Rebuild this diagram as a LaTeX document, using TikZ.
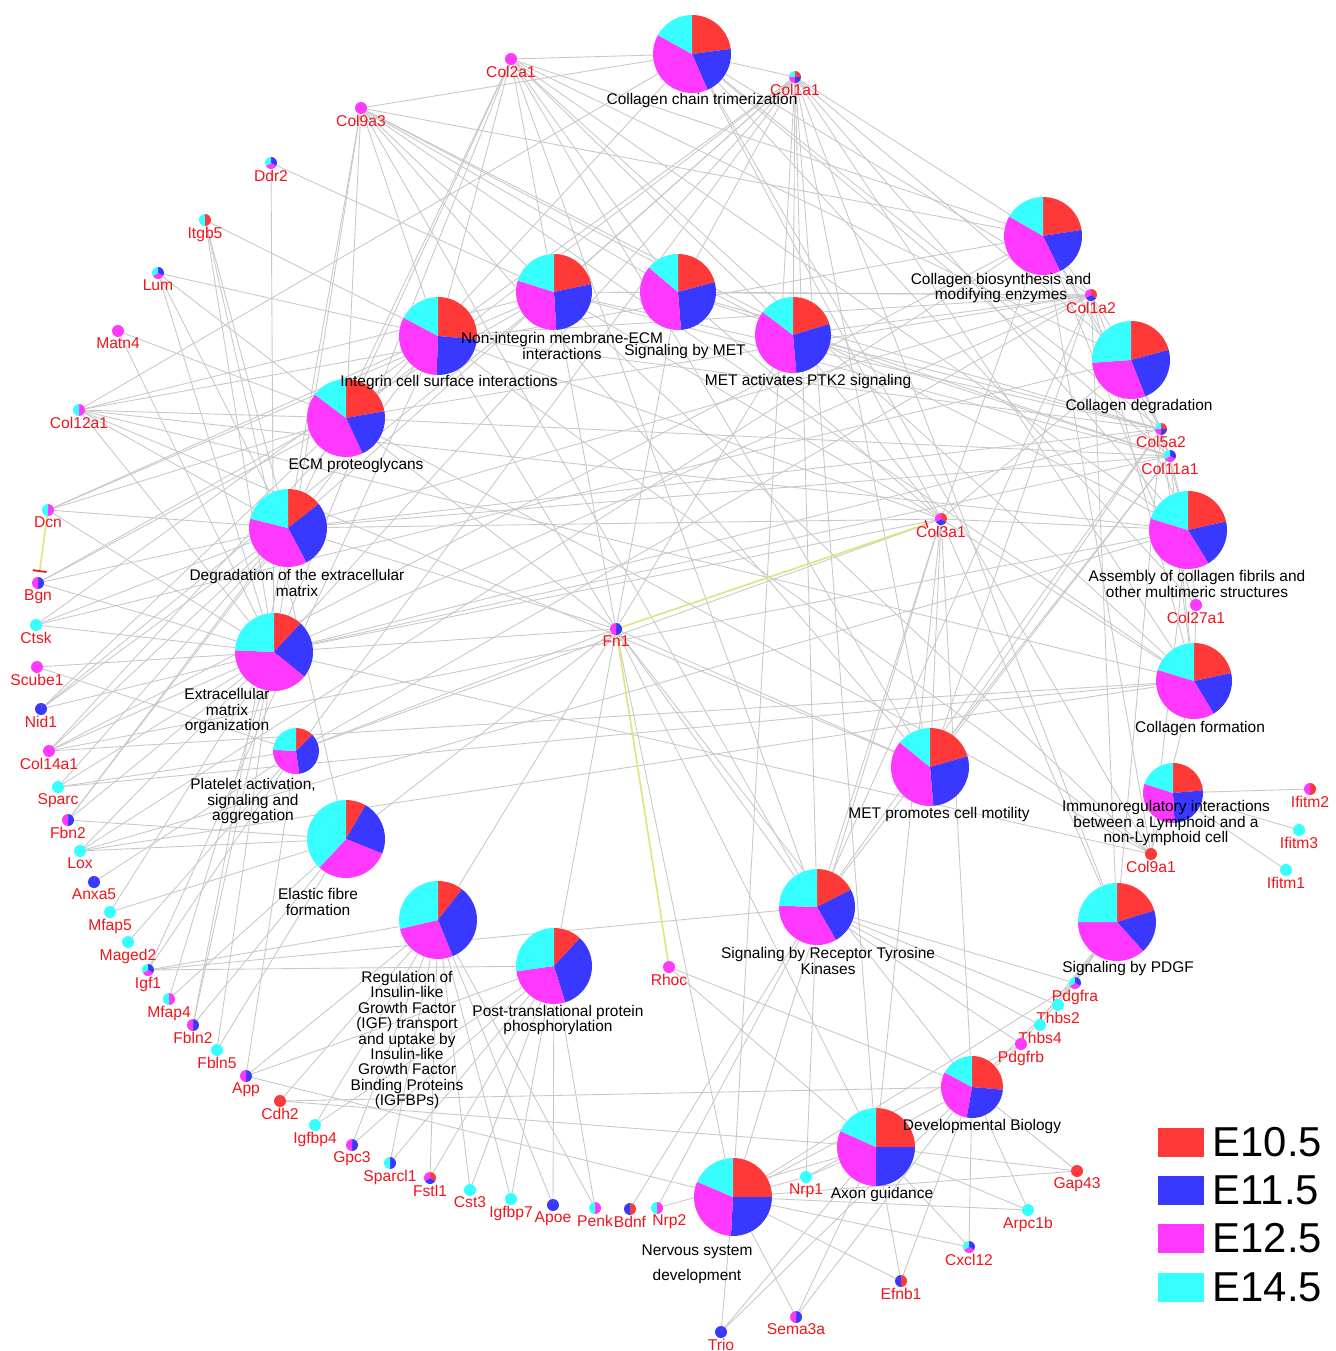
\documentclass[tikz,border=0pt]{standalone}
\usepackage{fontspec}
\setmainfont{Liberation Sans}
\usetikzlibrary{positioning,arrows.meta}

\definecolor{slRed}{HTML}{FF3838}
\definecolor{slBlue}{HTML}{3838FF}
\definecolor{slMag}{HTML}{FF38FF}
\definecolor{slCyan}{HTML}{38FFFF}
\definecolor{edgegray}{HTML}{C8C8C8}
\definecolor{edgeyellow}{HTML}{E2E27A}
\definecolor{geneRed}{HTML}{F2141C}

% pie: node, radius, slice ends clockwise from top (red | blue | magenta | cyan)
\newcommand{\drawpie}[5]{%
  \begin{scope}[shift={(#1.center)}]
    \fill[slRed]  (0,0) -- (90:#2) arc[start angle=90, end angle={90-#3}, radius=#2] -- cycle;
    \fill[slBlue] (0,0) -- ({90-#3}:#2) arc[start angle={90-#3}, end angle={90-#4}, radius=#2] -- cycle;
    \fill[slMag]  (0,0) -- ({90-#4}:#2) arc[start angle={90-#4}, end angle={90-#5}, radius=#2] -- cycle;
    \fill[slCyan] (0,0) -- ({90-#5}:#2) arc[start angle={90-#5}, end angle=-270, radius=#2] -- cycle;
  \end{scope}}

\begin{document}
\begin{tikzpicture}[
    x=0.02cm, y=0.02cm,
    pnode/.style={circle, inner sep=0, minimum size=#1},
    glabel/.style={text=geneRed, font=\fontsize{8.9}{9}\selectfont, inner sep=0.3pt},
    gene/.style={circle, inner sep=0, minimum size=0.22cm,
                 label={[glabel, label distance=0pt]below:#1}},
    plabel/.style={align=center, font=\fontsize{8.8}{8.8}\selectfont, inner sep=0},
    pedge/.style={draw=edgegray, line width=0.5pt},
    yedge/.style={draw=edgeyellow, line width=0.9pt},
    legbox/.style={minimum width=0.92cm, minimum height=0.58cm, inner sep=0},
    legtext/.style={font=\fontsize{23.8}{24}\selectfont, inner sep=0, anchor=west},
]
\pgfdeclarelayer{bg}
\pgfsetlayers{bg,main}
\useasboundingbox (0,0) rectangle (1335,-1351);

% Pathways
\node[pnode=1.56cm] (cct)  at (692,-54)   {};
\node[pnode=1.52cm] (nim)  at (554,-292)  {};
\node[pnode=1.52cm] (smet) at (678,-292)  {};
\node[pnode=1.52cm] (ptk)  at (793,-335)  {};
\node[pnode=1.56cm] (ics)  at (438,-336)  {};
\node[pnode=1.56cm] (ecmp) at (346,-418)  {};
\node[pnode=1.56cm] (decm) at (288,-528)  {};
\node[pnode=1.56cm] (emo)  at (274,-652)  {};
\node[pnode=0.92cm] (plt)  at (296,-751)  {};
\node[pnode=1.56cm] (eff)  at (346,-839)  {};
\node[pnode=1.56cm] (igf)  at (438,-920)  {};
\node[pnode=1.52cm] (ptp)  at (554,-966)  {};
\node[pnode=1.52cm] (rtk)  at (817,-907)  {};
\node[pnode=1.56cm] (nsd)  at (733,-1197) {};
\node[pnode=1.56cm] (axg)  at (876,-1147) {};
\node[pnode=1.24cm] (devb) at (972,-1087) {};
\node[pnode=1.56cm] (pdgf) at (1117,-922) {};
\node[pnode=1.2cm]  (imm)  at (1173,-793) {};
\node[pnode=1.56cm] (mcm)  at (930,-767)  {};
\node[pnode=1.52cm] (cf)   at (1194,-681) {};
\node[pnode=1.56cm] (acf)  at (1188,-530) {};
\node[pnode=1.56cm] (cdeg) at (1131,-360) {};
\node[pnode=1.56cm] (cbio) at (1043,-236) {};

% Genes
\node[gene=Col2a1]  (col2a1)  at (511,-59)   {};
\node[gene=Col1a1]  (col1a1)  at (795,-77)   {};
\node[gene=Col9a3]  (col9a3)  at (361,-108)  {};
\node[gene=Ddr2]    (ddr2)    at (271,-163)  {};
\node[gene=Itgb5]   (itgb5)   at (205,-220)  {};
\node[gene=Lum]     (lum)     at (158,-273)  {};
\node[gene=Matn4]   (matn4)   at (118,-331)  {};
\node[gene=Col12a1] (col12a1) at (79,-410)   {};
\node[gene=Dcn]     (dcn)     at (48,-510)   {};
\node[gene=Bgn]     (bgn)     at (38,-583)   {};
\node[gene=Ctsk]    (ctsk)    at (36,-625)   {};
\node[gene=Scube1]  (scube1)  at (37,-667)   {};
\node[gene=Nid1]    (nid1)    at (41,-709)   {};
\node[gene=Col14a1] (col14a1) at (49,-751)   {};
\node[gene=Sparc]   (sparc)   at (58,-787)   {};
\node[gene=Fbn2]    (fbn2)    at (68,-820)   {};
\node[gene=Lox]     (lox)     at (80,-851)   {};
\node[gene=Anxa5]   (anxa5)   at (94,-882)   {};
\node[gene=Mfap5]   (mfap5)   at (110,-912)  {};
\node[gene=Maged2]  (maged2)  at (128,-942)  {};
\node[gene=Igf1]    (igf1)    at (148,-970)  {};
\node[gene=Mfap4]   (mfap4)   at (169,-999)  {};
\node[gene=Fbln2]   (fbln2)   at (193,-1025) {};
\node[gene=Fbln5]   (fbln5)   at (217,-1050) {};
\node[gene=App]     (app)     at (246,-1076) {};
\node[gene=Cdh2]    (cdh2)    at (280,-1101) {};
\node[gene=Igfbp4]  (igfbp4)  at (315,-1125) {};
\node[gene=Gpc3]    (gpc3)    at (352,-1145) {};
\node[gene=Sparcl1] (sparcl1) at (390,-1163) {};
\node[gene=Fstl1]   (fstl1)   at (430,-1178) {};
\node[gene=Cst3]    (cst3)    at (470,-1190) {};
\node[gene=Igfbp7]  (igfbp7)  at (511,-1199) {};
\node[gene=Apoe]    (apoe)    at (553,-1205) {};
\node[gene=Penk]    (penk)    at (595,-1208) {};
\node[gene=Bdnf]    (bdnf)    at (630,-1209) {};
\node[circle, inner sep=0, minimum size=0.22cm,
      label={[glabel, xshift=7pt]below:Nrp2}] (nrp2) at (657,-1208) {};
\node[gene=Trio]    (trio)    at (721,-1332) {};
\node[gene=Sema3a]  (sema3a)  at (796,-1317) {};
\node[gene=Nrp1]    (nrp1)    at (806,-1177) {};
\node[gene=Efnb1]   (efnb1)   at (901,-1281) {};
\node[gene=Cxcl12]  (cxcl12)  at (969,-1247) {};
\node[gene=Arpc1b]  (arpc1b)  at (1028,-1210) {};
\node[gene=Gap43]   (gap43)   at (1077,-1171) {};
\node[gene=Pdgfrb]  (pdgfrb)  at (1021,-1044) {};
\node[gene=Thbs4]   (thbs4)   at (1040,-1025) {};
\node[gene=Thbs2]   (thbs2)   at (1058,-1005) {};
\node[gene=Pdgfra]  (pdgfra)  at (1075,-983)  {};
\node[gene=Col9a1]  (col9a1)  at (1151,-854)  {};
\node[gene=Ifitm1]  (ifitm1)  at (1286,-870)  {};
\node[gene=Ifitm3]  (ifitm3)  at (1299,-830)  {};
\node[gene=Ifitm2]  (ifitm2)  at (1310,-789)  {};
\node[gene=Col27a1] (col27a1) at (1196,-605)  {};
\node[gene=Col11a1] (col11a1) at (1170,-456)  {};
\node[gene=Col5a2]  (col5a2)  at (1161,-429)  {};
\node[gene=Col1a2]  (col1a2)  at (1091,-295)  {};
\node[gene=Col3a1]  (col3a1)  at (941,-519)   {};
\node[gene=Fn1]     (fn1)     at (616,-629)   {};
\node[gene=Rhoc]    (rhoc)    at (669,-967)   {};

\begin{pgfonlayer}{bg}
% gene -> pathway membership
\path[pedge] (col2a1) edge (cct) edge (nim) edge (smet) edge (ptk) edge (ics) edge (ecmp) edge (decm)
  edge (emo) edge (cbio) edge (cf) edge (acf) edge (cdeg) edge (mcm) edge (rtk);
\path[pedge] (col1a1) edge (cct) edge (nim) edge (smet) edge (ptk) edge (ics) edge (ecmp) edge (decm)
  edge (emo) edge (plt) edge (cbio) edge (cf) edge (acf) edge (cdeg) edge (mcm) edge (rtk) edge (pdgf)
  edge (axg) edge (nsd);
\path[pedge] (col9a3) edge (cct) edge (nim) edge (smet) edge (ptk) edge (ics) edge (ecmp) edge (decm)
  edge (emo) edge (cbio) edge (cf) edge (acf) edge (mcm) edge (rtk);
\path[pedge] (ddr2) edge (nim) edge (emo);
\path[pedge] (itgb5) edge (ics) edge (emo) edge (decm) edge (eff);
\path[pedge] (lum) edge (ecmp) edge (emo) edge (decm) edge (ics);
\path[pedge] (matn4) edge (ecmp) edge (emo);
\path[pedge] (col12a1) edge (cct) edge (nim) edge (ecmp) edge (decm) edge (emo) edge (cbio) edge (cf)
  edge (acf) edge (mcm);
\path[pedge] (dcn) edge (ecmp) edge (decm) edge (emo) edge (nim) edge (ics);
\path[pedge] (bgn) edge (ecmp) edge (decm) edge (emo) edge (nim);
\path[pedge] (ctsk) edge (decm) edge (emo) edge (cdeg) edge (ics);
\path[pedge] (scube1) edge (plt) edge (emo);
\path[pedge] (nid1) edge (nim) edge (emo) edge (decm) edge (ecmp);
\path[pedge] (col14a1) edge (cct) edge (cbio) edge (cf) edge (acf) edge (emo) edge (decm);
\path[pedge] (sparc) edge (plt) edge (emo) edge (decm) edge (cf);
\path[pedge] (fbn2) edge (eff) edge (emo) edge (decm) edge (ics);
\path[pedge] (lox) edge (eff) edge (emo) edge (cf) edge (acf) edge (cbio);
\path[pedge] (anxa5) edge (plt);
\path[pedge] (mfap5) edge (eff) edge (emo);
\path[pedge] (maged2) edge (plt);
\path[pedge] (igf1) edge (igf) edge (ptp) edge (plt) edge (rtk) edge (ics);
\path[pedge] (mfap4) edge (eff) edge (emo);
\path[pedge] (fbln2) edge (eff) edge (emo) edge (decm);
\path[pedge] (fbln5) edge (eff) edge (emo);
\path[pedge] (app) edge (plt) edge (igf) edge (ptp) edge (nsd);
\path[pedge] (cdh2) edge (devb) edge (igf) edge (axg);
\path[pedge] (igfbp4) edge (igf) edge (ptp);
\path[pedge] (gpc3) edge (igf) edge (ptp);
\path[pedge] (sparcl1) edge (igf) edge (ptp);
\path[pedge] (fstl1) edge (igf) edge (ptp);
\path[pedge] (cst3) edge (igf) edge (ptp);
\path[pedge] (igfbp7) edge (igf) edge (ptp);
\path[pedge] (apoe) edge (igf) edge (ptp);
\path[pedge] (penk) edge (igf) edge (ptp);
\path[pedge] (bdnf) edge (rtk);
\path[pedge] (nrp2) edge (rtk) edge (axg);
\path[pedge] (rhoc) edge (axg) edge (devb);
\path[pedge] (trio) edge (nsd) edge (axg) edge (devb);
\path[pedge] (sema3a) edge (nsd) edge (axg) edge (devb);
\path[pedge] (nrp1) edge (rtk) edge (nsd) edge (axg) edge (devb);
\path[pedge] (efnb1) edge (nsd) edge (axg) edge (devb);
\path[pedge] (cxcl12) edge (nsd) edge (axg) edge (devb);
\path[pedge] (arpc1b) edge (nsd) edge (axg) edge (devb);
\path[pedge] (gap43) edge (nsd) edge (axg) edge (devb);
\path[pedge] (pdgfrb) edge (pdgf) edge (rtk) edge (nsd) edge (devb);
\path[pedge] (thbs4) edge (pdgf) edge (rtk);
\path[pedge] (thbs2) edge (pdgf) edge (rtk);
\path[pedge] (pdgfra) edge (pdgf) edge (rtk) edge (nsd) edge (devb);
\path[pedge] (col9a1) edge (cct) edge (cbio) edge (cf) edge (acf) edge (ecmp) edge (ics) edge (nim) edge (emo);
\path[pedge] (imm) edge (ifitm1) edge (ifitm2) edge (ifitm3);
\path[pedge] (col27a1) edge (cbio) edge (cf) edge (acf) edge (cct);
\path[pedge] (col11a1) edge (cct) edge (nim) edge (smet) edge (ptk) edge (ecmp) edge (decm) edge (emo)
  edge (cbio) edge (cf) edge (acf) edge (cdeg) edge (mcm) edge (rtk);
\path[pedge] (col5a2) edge (cct) edge (nim) edge (smet) edge (ptk) edge (ics) edge (decm) edge (emo)
  edge (cbio) edge (cf) edge (acf) edge (cdeg) edge (mcm) edge (rtk) edge (pdgf);
\path[pedge] (col1a2) edge (cct) edge (nim) edge (smet) edge (ptk) edge (ics) edge (ecmp) edge (decm)
  edge (emo) edge (plt) edge (cbio) edge (cf) edge (acf) edge (cdeg) edge (mcm) edge (rtk) edge (pdgf);
\path[pedge] (col3a1) edge (cct) edge (nim) edge (smet) edge (ptk) edge (ics) edge (decm) edge (emo)
  edge (plt) edge (cbio) edge (cf) edge (acf) edge (cdeg) edge (mcm) edge (rtk) edge (pdgf) edge (axg)
  edge (devb) edge (nsd);
\path[pedge] (fn1) edge (ics) edge (nim) edge (smet) edge (ptk) edge (mcm) edge (emo) edge (decm)
  edge (ecmp) edge (plt) edge (eff) edge (rtk) edge (igf) edge (ptp) edge (axg) edge (nsd) edge (devb);

% gene -- gene interactions (yellow)
\draw[yedge, -{Bar[width=8pt, line width=1pt, color=geneRed]}, shorten >=3pt] (dcn) -- (bgn);
\draw[yedge, -{Bar[width=4.5pt, line width=0.8pt, color=geneRed]}, shorten >=5pt] (fn1) -- (col3a1);
\draw[yedge] (fn1) -- (rhoc);
\end{pgfonlayer}

% pathway pies
\drawpie{cct}{39}{82.5}{156.5}{299}
\drawpie{nim}{38}{78}{176.5}{287.5}
\drawpie{smet}{38}{75}{175.5}{310}
\drawpie{ptk}{38}{73}{175}{307}
\drawpie{ics}{39}{95}{182}{298}
\drawpie{ecmp}{39}{80}{155}{307}
\drawpie{decm}{39}{52}{152}{284}
\drawpie{emo}{39}{43}{129}{272.5}
\drawpie{plt}{23}{45}{172}{273}
\drawpie{eff}{39}{30}{112}{223}
\drawpie{igf}{39}{38}{158}{257}
\drawpie{ptp}{38}{43}{163}{262}
\drawpie{rtk}{38}{63}{150}{272}
\drawpie{nsd}{39}{90}{183}{293}
\drawpie{axg}{39}{90}{180}{294}
\drawpie{devb}{31}{95}{190}{298}
\drawpie{pdgf}{39}{73}{138}{270}
\drawpie{imm}{30}{85}{177}{288}
\drawpie{mcm}{39}{74}{175}{309}
\drawpie{cf}{38}{78}{149}{287}
\drawpie{acf}{39}{77.5}{148.5}{287}
\drawpie{cdeg}{39}{75}{158.6}{266}
\drawpie{cbio}{39}{81}{154}{300}

% gene pies
\drawpie{col2a1}{6}{0}{0}{360}
\drawpie{col1a1}{6}{90}{180}{270}
\drawpie{col9a3}{6}{0}{0}{360}
\drawpie{ddr2}{6}{0}{120}{240}
\drawpie{itgb5}{6}{180}{180}{180}
\drawpie{lum}{6}{0}{120}{240}
\drawpie{matn4}{6}{0}{0}{360}
\drawpie{col12a1}{6}{0}{0}{180}
\drawpie{dcn}{6}{0}{0}{180}
\drawpie{bgn}{6}{0}{180}{360}
\drawpie{ctsk}{6}{0}{0}{0}
\drawpie{scube1}{6}{0}{0}{360}
\drawpie{nid1}{6}{0}{360}{360}
\drawpie{col14a1}{6}{0}{0}{360}
\drawpie{sparc}{6}{0}{0}{0}
\drawpie{fbn2}{6}{0}{180}{360}
\drawpie{lox}{6}{0}{0}{0}
\drawpie{anxa5}{6}{0}{360}{360}
\drawpie{mfap5}{6}{0}{0}{0}
\drawpie{maged2}{6}{0}{0}{0}
\drawpie{igf1}{6}{0}{120}{240}
\drawpie{mfap4}{6}{0}{0}{180}
\drawpie{fbln2}{6}{0}{180}{360}
\drawpie{fbln5}{6}{0}{0}{0}
\drawpie{app}{6}{0}{180}{360}
\drawpie{cdh2}{6}{360}{360}{360}
\drawpie{igfbp4}{6}{0}{0}{0}
\drawpie{gpc3}{6}{0}{180}{360}
\drawpie{sparcl1}{6}{0}{180}{180}
\drawpie{fstl1}{6}{120}{240}{360}
\drawpie{cst3}{6}{0}{0}{0}
\drawpie{igfbp7}{6}{0}{0}{0}
\drawpie{apoe}{6}{0}{360}{360}
\drawpie{penk}{6}{0}{0}{180}
\drawpie{bdnf}{6}{180}{360}{360}
\drawpie{nrp2}{6}{0}{0}{180}
\drawpie{trio}{6}{0}{360}{360}
\drawpie{sema3a}{6}{0}{180}{360}
\drawpie{nrp1}{6}{0}{0}{0}
\drawpie{efnb1}{6}{180}{360}{360}
\drawpie{cxcl12}{6}{0}{120}{240}
\drawpie{arpc1b}{6}{0}{0}{0}
\drawpie{gap43}{6}{360}{360}{360}
\drawpie{pdgfrb}{6}{0}{0}{360}
\drawpie{thbs4}{6}{0}{0}{0}
\drawpie{thbs2}{6}{0}{0}{0}
\drawpie{pdgfra}{6}{0}{120}{240}
\drawpie{col9a1}{6}{360}{360}{360}
\drawpie{ifitm1}{6}{0}{0}{0}
\drawpie{ifitm3}{6}{0}{0}{0}
\drawpie{ifitm2}{6}{180}{180}{360}
\drawpie{col27a1}{6}{0}{0}{360}
\drawpie{col11a1}{6}{0}{120}{240}
\drawpie{col5a2}{6}{90}{180}{270}
\drawpie{col1a2}{6}{120}{240}{360}
\drawpie{col3a1}{6}{120}{240}{360}
\drawpie{fn1}{6}{0}{180}{360}
\drawpie{rhoc}{6}{0}{0}{360}

% pathway labels
\node[plabel] (cct-l)  at (702,-101)  {Collagen chain trimerization};
\node[plabel] (nim-l)  at (562,-346)  {Non-integrin membrane-ECM\\interactions};
\node[plabel] (smet-l) at (685,-352)  {Signaling by MET};
\node[plabel] (ptk-l)  at (808,-382)  {MET activates PTK2 signaling};
\node[plabel] (ics-l)  at (449,-383)  {Integrin cell surface interactions};
\node[plabel] (ecmp-l) at (356,-465)  {ECM proteoglycans};
\node[plabel] (decm-l) at (297,-583)  {Degradation of the extracellular\\matrix};
\node[plabel] (emo-l)  at (227,-711)  {Extracellular\\matrix\\organization};
\node[plabel] (plt-l)  at (253,-801)  {Platelet activation,\\signaling and\\aggregation};
\node[plabel] (eff-l)  at (318,-902)  {Elastic fibre\\formation};
\node[plabel] (igf-l)  at (407,-1040) {Regulation of\\Insulin-like\\Growth Factor\\(IGF) transport\\and uptake by\\Insulin-like\\Growth Factor\\Binding Proteins\\(IGFBPs)};
\node[plabel] (ptp-l)  at (558,-1020) {Post-translational protein\\phosphorylation};
\node[plabel] (rtk-l)  at (828,-961)  {Signaling by Receptor Tyrosine\\Kinases};
\node[plabel] (nsd-l)  at (697,-1264) {Nervous system\\[5.5pt]development};
\node[plabel] (axg-l)  at (882,-1194) {Axon guidance};
\node[plabel] (devb-l) at (982,-1126) {Developmental Biology};
\node[plabel] (pdgf-l) at (1128,-968) {Signaling by PDGF};
\node[plabel] (imm-l)  at (1166,-823) {Immunoregulatory interactions\\between a Lymphoid and a\\non-Lymphoid cell};
\node[plabel] (mcm-l)  at (939,-814)  {MET promotes cell motility};
\node[plabel] (cf-l)   at (1200,-728) {Collagen formation};
\node[plabel] (acf-l)  at (1197,-584) {Assembly of collagen fibrils and\\other multimeric structures};
\node[plabel] (cdeg-l) at (1139,-407) {Collagen degradation};
\node[plabel] (cbio-l) at (1001,-288) {Collagen biosynthesis and\\modifying enzymes};

% legend
\node[legbox, fill=slRed]  (k1) at (1181,-1142.5) {};
\node[legbox, fill=slBlue] (k2) at (1181,-1190.5) {};
\node[legbox, fill=slMag]  (k3) at (1181,-1238.5) {};
\node[legbox, fill=slCyan] (k4) at (1181,-1287)   {};
\node[legtext, right=0.16cm of k1] (k1-t) {E10.5};
\node[legtext, right=0.16cm of k2] (k2-t) {E11.5};
\node[legtext, right=0.16cm of k3] (k3-t) {E12.5};
\node[legtext, right=0.16cm of k4] (k4-t) {E14.5};
\end{tikzpicture}
\end{document}
